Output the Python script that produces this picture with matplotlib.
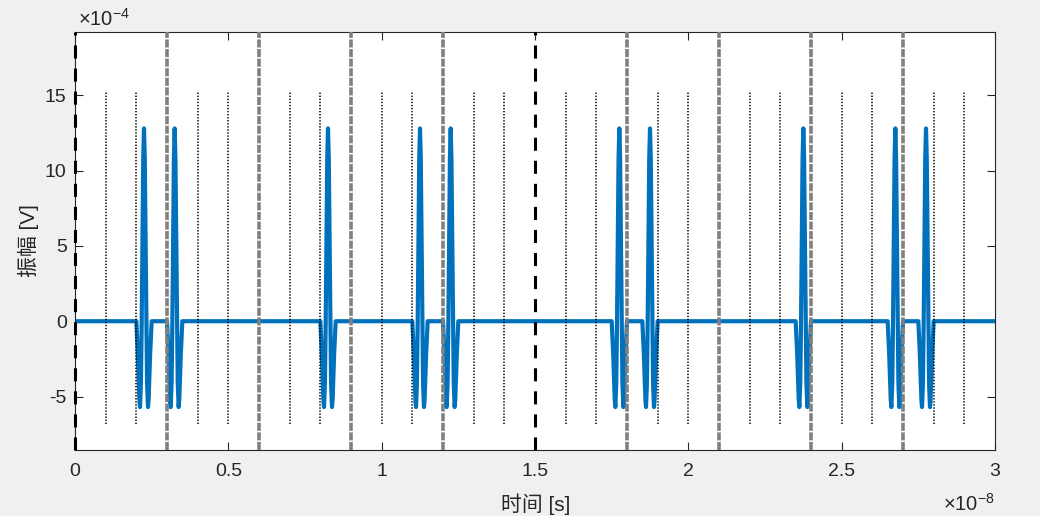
import numpy as np
import matplotlib
matplotlib.use("Agg")
import matplotlib.pyplot as plt
from matplotlib.ticker import FormatStrFormatter

plt.rcParams["font.family"] = ["Liberation Sans", "Noto Sans CJK SC", "DejaVu Sans"]
plt.rcParams["mathtext.fontset"] = "custom"
plt.rcParams["mathtext.rm"] = "Liberation Sans"
plt.rcParams["lines.scale_dashes"] = False

BG = "#f0f0f0"
INK = "#262626"
BLUE = "#0072bd"
GRAY = "#808080"

# --- data (time in 1e-8 s, amplitude in 1e-4 V) ---
pulse_starts = [0.20, 0.30, 0.80, 1.10, 1.20, 1.75, 1.85, 2.35, 2.65, 2.75]
# one pulse: offset in ps, amplitude in 1e-4 V
pulse_offset_ps = [0, 25, 50, 75, 100, 120, 150, 175, 200, 225, 250,
                   275, 300, 325, 350, 380, 400, 425, 450, 475, 500]
pulse_amp = [0, -1.1, -2.2, -3.7, -5.2, -5.7, -4.1, 0, 5.7, 10.8, 12.8,
             10.8, 5.7, 0, -4.1, -5.7, -5.2, -3.7, -2.2, -1.1, 0]
frame_lines = [0.0, 1.5]
slot_lines = [0.3, 0.6, 0.9, 1.2, 1.8, 2.1, 2.4, 2.7]
chip_lines = [0.1, 0.2, 0.4, 0.5, 0.7, 0.8, 1.0, 1.1, 1.3, 1.4,
              1.6, 1.7, 1.9, 2.0, 2.2, 2.3, 2.5, 2.6, 2.8, 2.9]
chip_span = (-6.85, 15.3)
t_end = 3.0
x_ticks = [0, 0.5, 1, 1.5, 2, 2.5, 3]
y_ticks = [-5, 0, 5, 10, 15]
ylim = (-8.55, 19.2)

# assemble the trace from the pulse template
offs = np.array(pulse_offset_ps) * 1e-4  # ps -> 1e-8 s
t = [0.0]
v = [0.0]
for s in pulse_starts:
    t.extend(s + offs)
    v.extend(pulse_amp)
t.append(t_end)
v.append(0.0)

W, H = 1040, 516
fig = plt.figure(figsize=(W / 100, H / 100), dpi=100, facecolor=BG)
ax = fig.add_axes([75 / W, 1 - 450 / H, 920 / W, 418 / H])
ax.set_facecolor("white")

ax.plot(t, v, color=BLUE, lw=3.0, zorder=2, solid_joinstyle="round")

for x in chip_lines:
    ax.plot([x, x], chip_span, color="black", lw=1.1,
            linestyle=(0, (1.0, 1.2)), zorder=3)
for x in slot_lines:
    ax.axvline(x, color=GRAY, lw=2.6, linestyle=(0, (5.8, 1.1)), zorder=3)
for x in frame_lines:
    ax.axvline(x, color="black", lw=2.2, linestyle=(0, (9.4, 7.2)),
               zorder=4, clip_on=False)

ax.set_xlim(0, t_end)
ax.set_ylim(*ylim)
ax.set_xticks(x_ticks)
ax.set_yticks(y_ticks)
ax.xaxis.set_major_formatter(FormatStrFormatter("%g"))
ax.yaxis.set_major_formatter(FormatStrFormatter("%g"))
ax.tick_params(direction="in", length=6, width=0.8, color=INK,
               labelcolor=INK, labelsize=14, top=True, right=True)
ax.tick_params(axis="x", pad=9)
ax.tick_params(axis="y", pad=6)
for sp in ax.spines.values():
    sp.set_color(INK)
    sp.set_linewidth(0.8)

fig.text(536 / W, 1 - 504 / H, "时间 [s]", ha="center", va="center",
         fontsize=15, color=INK)
fig.text(28 / W, 1 - 241 / H, "振幅 [V]", ha="center", va="center",
         rotation=90, fontsize=15, color=INK)
fig.text(78 / W, 1 - 26 / H, r"$\times10^{-4}$", ha="left", va="baseline",
         fontsize=14.5, color=INK)
fig.text(995 / W, 1 - 511 / H, r"$\times10^{-8}$", ha="right", va="baseline",
         fontsize=14.5, color=INK)

fig.savefig("out.png", dpi=100, facecolor=BG)
